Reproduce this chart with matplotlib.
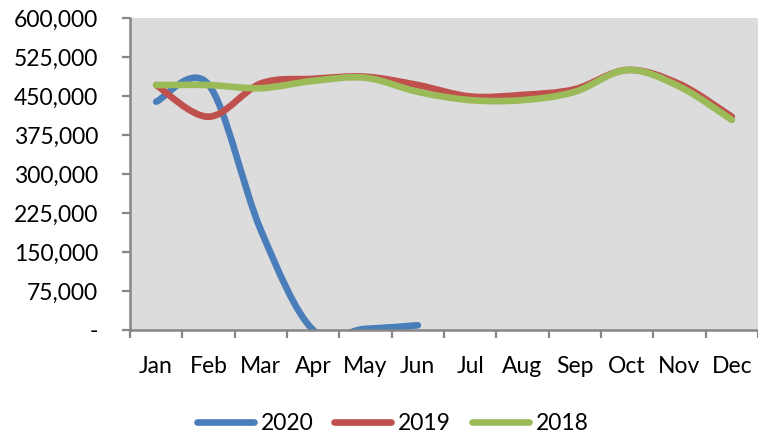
#!/usr/bin/env python3
import matplotlib
matplotlib.use("Agg")
import matplotlib.pyplot as plt
from matplotlib.path import Path
from matplotlib.patches import PathPatch
from matplotlib.lines import Line2D
from matplotlib.ticker import FuncFormatter

months = ["Jan", "Feb", "Mar", "Apr", "May", "Jun",
          "Jul", "Aug", "Sep", "Oct", "Nov", "Dec"]
y2020 = [439000, 472000, 192000, 0, 2000, 9000]
y2019 = [471000, 410000, 474000, 483000, 487000, 471000,
         449000, 452000, 463000, 500000, 473000, 410000]
y2018 = [471000, 471000, 465000, 479000, 485000, 458000,
         442000, 442000, 458000, 500000, 468000, 404000]

series = [("2020", y2020, "#4a7ebb"),
          ("2019", y2019, "#c0504d"),
          ("2018", y2018, "#9bbb59")]

plt.rcParams["font.family"] = ["Lato", "DejaVu Sans"]


def smooth_path(xs, ys):
    # Excel-style smoothed line: cubic Bezier segments, Catmull-Rom tangents
    n = len(xs)
    verts = [(xs[0], ys[0])]
    codes = [Path.MOVETO]
    for i in range(n - 1):
        x0, y0 = xs[max(i - 1, 0)], ys[max(i - 1, 0)]
        x1, y1 = xs[i], ys[i]
        x2, y2 = xs[i + 1], ys[i + 1]
        x3, y3 = xs[min(i + 2, n - 1)], ys[min(i + 2, n - 1)]
        c1 = (x1 + (x2 - x0) / 6, y1 + (y2 - y0) / 6)
        c2 = (x2 - (x3 - x1) / 6, y2 - (y3 - y1) / 6)
        verts += [c1, c2, (x2, y2)]
        codes += [Path.CURVE4] * 3
    return Path(verts, codes)


fig = plt.figure(figsize=(7.58, 4.33), dpi=100)
ax = fig.add_axes([0.1715, 0.238, 0.8285, 0.7205])
ax.set_facecolor("#dcdcdc")

handles = []
for name, vals, color in series:
    xs = [i + 0.5 for i in range(len(vals))]
    patch = PathPatch(smooth_path(xs, vals), facecolor="none", edgecolor=color,
                      lw=4.8, capstyle="round", joinstyle="round")
    ax.add_patch(patch)
    handles.append(Line2D([], [], color=color, lw=4.8, solid_capstyle="round"))

ax.set_xlim(0, 12)
ax.set_ylim(0, 600000)
ax.set_yticks(range(0, 600001, 75000))
ax.yaxis.set_major_formatter(FuncFormatter(lambda v, p: "-" if v == 0 else f"{int(v):,}"))

ax.set_xticks(range(13))
ax.set_xticklabels([])
ax.set_xticks([i + 0.5 for i in range(12)], minor=True)
ax.set_xticklabels(months, minor=True)
ax.tick_params(axis="x", which="major", length=6, width=1.6, color="#868686", direction="out")
ax.tick_params(axis="x", which="minor", length=0, pad=19, labelsize=16.5)
ax.tick_params(axis="y", length=6, width=1.6, color="#868686", pad=17, labelsize=16.5)

for s in ("top", "right"):
    ax.spines[s].set_visible(False)
for s in ("left", "bottom"):
    ax.spines[s].set_color("#868686")
    ax.spines[s].set_linewidth(1.8)

fig.legend(handles, [s[0] for s in series], loc="center", ncol=3,
           bbox_to_anchor=(0.518, 0.022), frameon=False, fontsize=16.5,
           handlelength=2.5, handletextpad=0.3, columnspacing=0.9)

fig.savefig("out.png", dpi=100)
plt.close(fig)
